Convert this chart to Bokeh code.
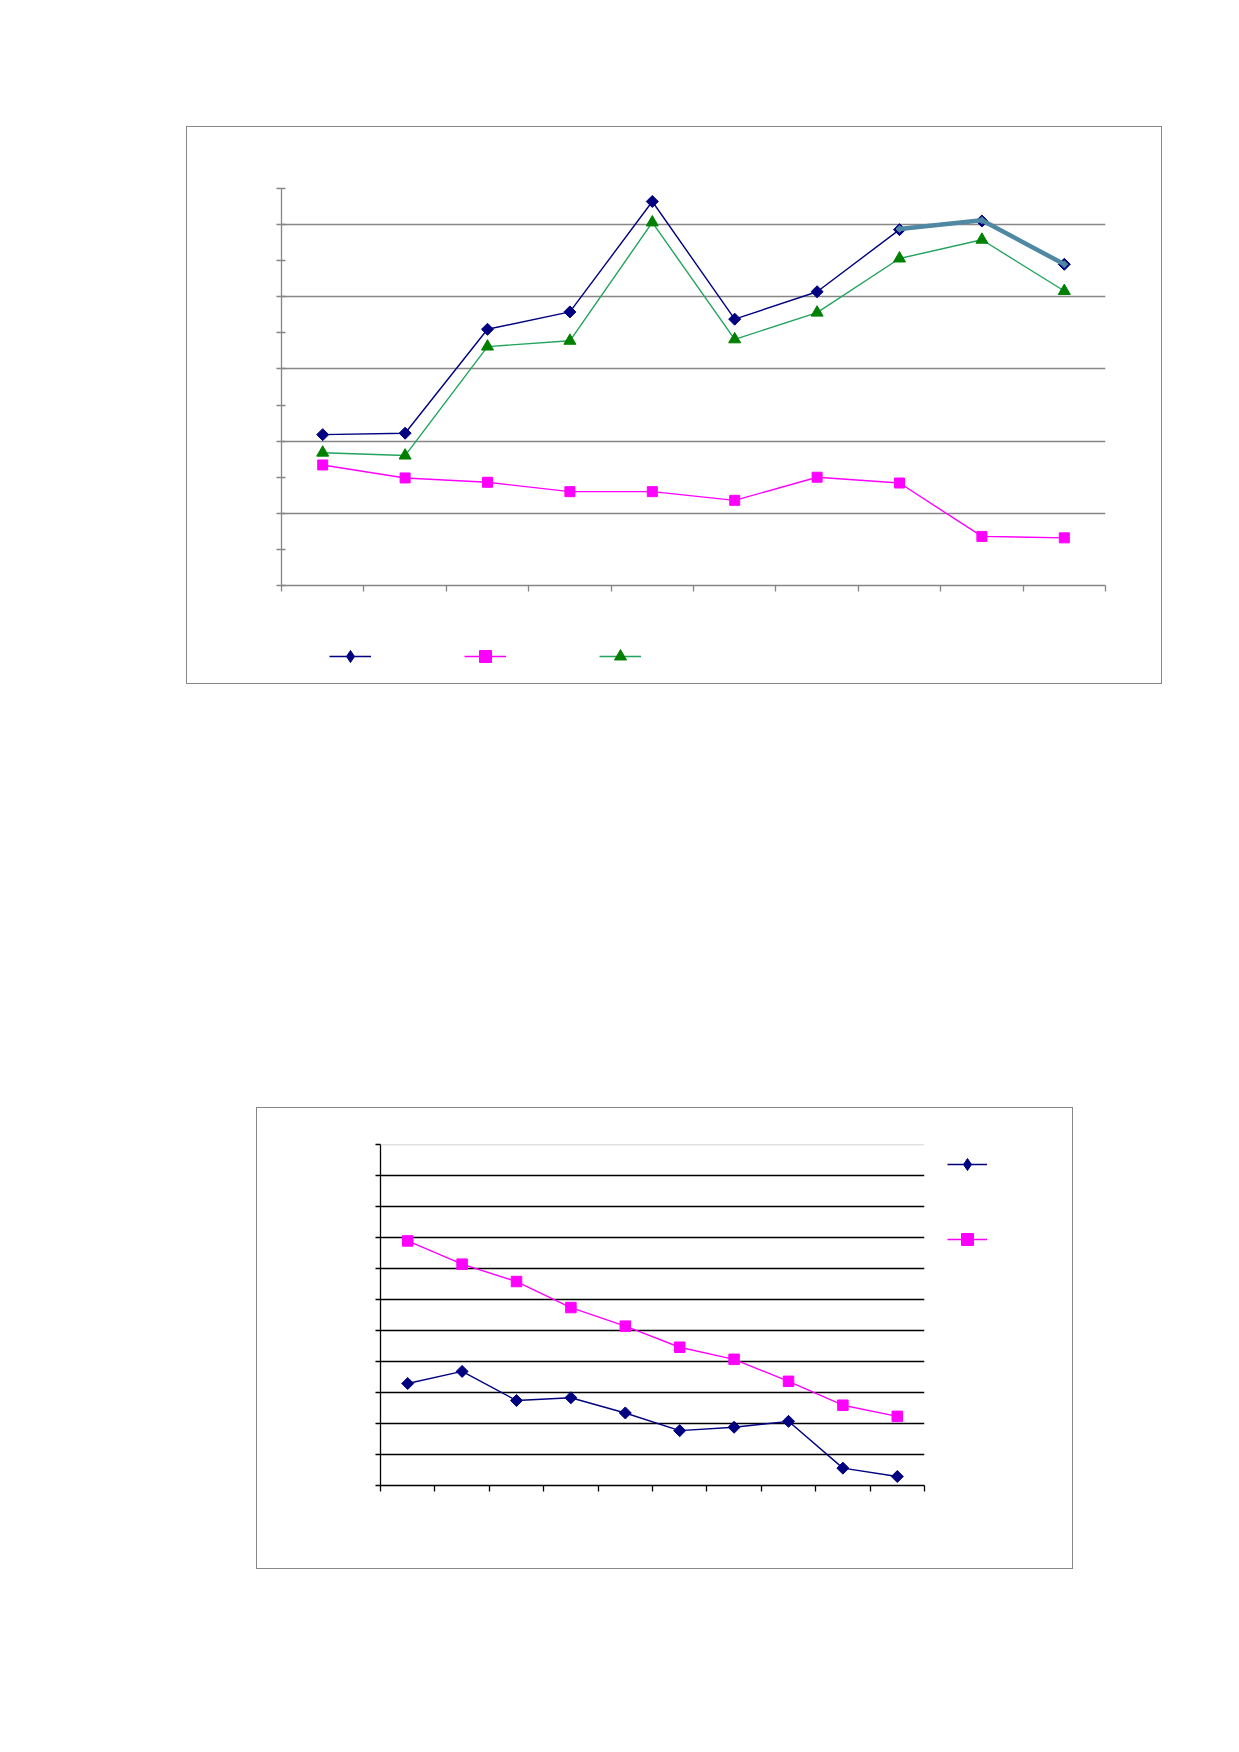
import numpy as np
from bokeh.plotting import figure
from bokeh.models import (Range1d, FixedTicker, Legend, LegendItem, Spacer, Span,
                          CustomJSTickFormatter)
from bokeh.layouts import column, row
from bokeh.embed import file_html
from bokeh.resources import INLINE

# ---------------- data ----------------
top_periods = list(range(1, 11))
top_series_a = [2.09, 2.11, 3.55, 3.79, 5.32, 3.69, 4.07, 4.93, 5.05, 4.45]
top_series_b = [1.67, 1.49, 1.43, 1.30, 1.30, 1.18, 1.50, 1.42, 0.68, 0.66]
top_series_c = [1.84, 1.80, 3.31, 3.39, 5.03, 3.41, 3.78, 4.53, 4.79, 4.08]
top_overlay_periods = [8, 9, 10]
top_overlay_values = [4.94, 5.06, 4.45]
top_y_ticks = [0, 0.5, 1, 1.5, 2, 2.5, 3, 3.5, 4, 4.5, 5, 5.5]
top_grid_values = [1, 2, 3, 4, 5]

bottom_periods = list(range(1, 11))
bottom_series_a = [3.29, 3.68, 2.74, 2.83, 2.34, 1.77, 1.88, 2.07, 0.56, 0.29]
bottom_series_b = [7.89, 7.14, 6.58, 5.74, 5.14, 4.46, 4.07, 3.36, 2.59, 2.23]
bottom_y_ticks = list(range(0, 12))
bottom_grid_values = list(range(1, 11))

NAVY = "#000080"
MAGENTA = "#FF00FF"
GREEN_FILL = "#008000"
GREEN_LINE = "#22A35E"
STEEL = "#4E88A2"
BOX = "1px solid #878787"


def xs(periods):
    return [p - 0.5 for p in periods]


def style_axes(p, color, width, y_ticks, y_in, y_out, x_out):
    for ax in (p.xaxis[0], p.yaxis[0]):
        ax.axis_line_color = color
        ax.axis_line_width = width
        ax.major_tick_line_color = color
        ax.major_tick_line_width = width
        ax.minor_tick_line_color = None
        ax.major_label_text_font_size = "0px"
        ax.major_label_standoff = 0
        ax.formatter = CustomJSTickFormatter(code="return '';")
    p.xaxis[0].ticker = FixedTicker(ticks=list(range(0, 11)))
    p.xaxis[0].major_tick_in = 0
    p.xaxis[0].major_tick_out = x_out
    p.yaxis[0].ticker = FixedTicker(ticks=y_ticks)
    p.yaxis[0].major_tick_in = y_in
    p.yaxis[0].major_tick_out = y_out


def legend_figure(w, h):
    f = figure(width=w, height=h, x_range=Range1d(0, 1), y_range=Range1d(0, 1),
               output_backend="svg", toolbar_location=None,
               x_axis_location=None, y_axis_location=None,
               min_border_left=0, min_border_right=0, min_border_top=0, min_border_bottom=0,
               outline_line_color=None, background_fill_color="white",
               border_fill_color="white")
    f.xgrid.visible = False
    f.ygrid.visible = False
    return f


def legend_entry(f, periods, values, line_color, marker, fill):
    # hidden copies of the series, used only to draw the legend swatch
    l = f.line(xs(periods), values, line_color=line_color, line_width=1.5, visible=False)
    s = f.scatter(xs(periods), values, marker=marker, fill_color=fill, line_color=fill,
                  visible=False)
    return LegendItem(label=" ", renderers=[l, s])


# ---------------- top chart ----------------
p1 = figure(width=974, height=488, x_range=Range1d(0, 10), y_range=Range1d(0, 5.5),
            output_backend="svg", toolbar_location=None,
            min_border_left=94, min_border_right=56, min_border_top=61, min_border_bottom=30,
            outline_line_color=None, background_fill_color="white",
            border_fill_color="white")
style_axes(p1, "#868686", 1.3, top_y_ticks, 4, 5, 6)
p1.xgrid.visible = False
p1.ygrid.ticker = FixedTicker(ticks=top_grid_values)
p1.ygrid.grid_line_color = "#868686"
p1.ygrid.grid_line_width = 1.3

p1.line(xs(top_periods), top_series_a, line_color=NAVY, line_width=1.4)
p1.scatter(xs(top_periods), top_series_a, marker="square", angle=np.pi / 4, size=8.5,
           fill_color=NAVY, line_color=NAVY)
p1.line(xs(top_periods), top_series_b, line_color=MAGENTA, line_width=1.4)
p1.scatter(xs(top_periods), top_series_b, marker="square", size=10,
           fill_color=MAGENTA, line_color=MAGENTA)
p1.line(xs(top_periods), top_series_c, line_color=GREEN_LINE, line_width=1.4)
p1.scatter(xs(top_periods), top_series_c, marker="triangle", size=12,
           fill_color=GREEN_FILL, line_color=GREEN_FILL)
p1.line(xs(top_overlay_periods), top_overlay_values, line_color=STEEL, line_width=4.5)
p1.scatter(xs(top_overlay_periods), top_overlay_values, marker="square", angle=np.pi / 4,
           size=5, fill_color=STEEL, line_color=STEEL)

p1leg = legend_figure(974, 68)
leg1 = Legend(items=[legend_entry(p1leg, top_periods, top_series_a, NAVY, "diamond", NAVY),
                     legend_entry(p1leg, top_periods, top_series_b, MAGENTA, "square", MAGENTA),
                     legend_entry(p1leg, top_periods, top_series_c, GREEN_LINE, "triangle", GREEN_FILL)],
              orientation="horizontal", location=(48, 12),
              glyph_width=42, glyph_height=30, label_height=30, label_width=20,
              label_standoff=5, spacing=68, padding=0, margin=0,
              border_line_color=None, background_fill_alpha=0, inactive_fill_alpha=0)
p1leg.add_layout(leg1)

# ---------------- bottom chart ----------------
p2 = figure(width=672, height=460, x_range=Range1d(0, 10), y_range=Range1d(0, 11),
            output_backend="svg", toolbar_location=None,
            min_border_left=123, min_border_right=5, min_border_top=36, min_border_bottom=83,
            outline_line_color=None, background_fill_color="white",
            border_fill_color="white")
style_axes(p2, "#000000", 1.3, bottom_y_ticks, 0, 5, 6)
p2.xgrid.visible = False
p2.ygrid.ticker = FixedTicker(ticks=bottom_grid_values)
p2.ygrid.grid_line_color = "#000000"
p2.ygrid.grid_line_width = 1.5
p2.add_layout(Span(location=11, dimension="width", line_color="#c4c4c4", line_width=1.5))

p2.line(xs(bottom_periods), bottom_series_a, line_color=NAVY, line_width=1.4)
p2.scatter(xs(bottom_periods), bottom_series_a, marker="square", angle=np.pi / 4, size=8.5,
           fill_color=NAVY, line_color=NAVY)
p2.line(xs(bottom_periods), bottom_series_b, line_color=MAGENTA, line_width=1.4)
p2.scatter(xs(bottom_periods), bottom_series_b, marker="square", size=10.5,
           fill_color=MAGENTA, line_color=MAGENTA)

p2leg = legend_figure(143, 460)
leg2 = Legend(items=[legend_entry(p2leg, bottom_periods, bottom_series_a, NAVY, "diamond", NAVY),
                     legend_entry(p2leg, bottom_periods, bottom_series_b, MAGENTA, "square", MAGENTA)],
              orientation="vertical", location=(18, 231),
              glyph_width=40, glyph_height=30, label_height=30, label_width=20,
              label_standoff=5, spacing=45, padding=0, margin=0,
              border_line_color=None, background_fill_alpha=0, inactive_fill_alpha=0)
p2leg.add_layout(leg2)

box1 = column(p1, p1leg, styles={"border": BOX})
box2 = row(p2, p2leg, styles={"border": BOX})

layout = column(
    Spacer(height=126),
    row(Spacer(width=186), box1),
    Spacer(height=423),
    row(Spacer(width=256), box2),
)

open("out.html", "w").write(file_html(layout, INLINE))
